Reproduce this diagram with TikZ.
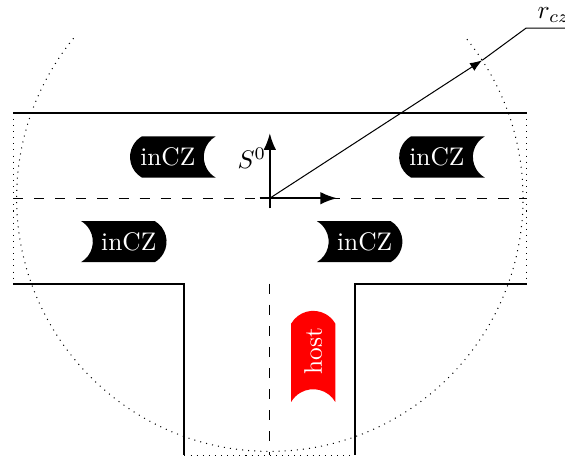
\documentclass[tikz,border=0pt]{standalone}
\usepackage{amsmath}
\usetikzlibrary{arrows.meta,calc,positioning,shapes.misc}

\begin{document}
\begin{tikzpicture}[
  carbox/.style={rounded rectangle, rounded rectangle arc length=120, fill=black, text=white, minimum height=0.57cm, inner xsep=3.3pt},
  hostbox/.style={rounded rectangle, rounded rectangle arc length=120, fill=red, text=white, minimum height=0.61cm, minimum width=1.4cm, inner xsep=2pt, rotate=90, rounded rectangle left arc=concave},
  roadline/.style={thick},
  laneline/.style={dash pattern=on 4pt off 4.3pt},
  zoneline/.style={dotted},
  arrow/.style={-Latex, thick},
  radiusarrow/.style={-Latex}
]
\clip (-3.73,-3.61) rectangle (4.08,2.74);

% road
\draw[roadline] (-3.55,1.18) -- (3.55,1.18);
\draw[roadline] (-3.55,-1.18) -- (-1.18,-1.18) -- (-1.18,-3.55);
\draw[roadline] (3.55,-1.18) -- (1.18,-1.18) -- (1.18,-3.55);
\draw[laneline] (-3.55,0) -- (3.55,0);
\draw[laneline] (0,-1.18) -- (0,-3.55);
\draw[zoneline] (-3.55,1.18) -- (-3.55,-1.18);
\draw[zoneline] (3.55,1.18) -- (3.55,-1.18);
\draw[zoneline] (-1.18,-3.55) -- (1.18,-3.55);

% zone
\coordinate (origin) at (0,0);
\begin{scope}
  \clip (-3.73,-3.61) rectangle (4.08,2.23);
  \draw[zoneline] (origin) circle (3.5);
\end{scope}

% vehicles
\node[carbox, rounded rectangle right arc=concave] (carA) at (-1.41,0.57) {inCZ};
\node[carbox, rounded rectangle right arc=concave] (carB) at (2.31,0.57) {inCZ};
\node[carbox, rounded rectangle left arc=concave] (carC) at (-1.95,-0.6) {inCZ};
\node[carbox, rounded rectangle left arc=concave] (carD) at (1.31,-0.6) {inCZ};
\node[hostbox] (host) at (0.6,-2.11) {host};

% frame
\coordinate (xtail) at (-0.14,0);
\coordinate (ytail) at (0,-0.14);
\coordinate (xtip) at (0.93,0);
\coordinate (ytip) at (0,0.9);
\draw[arrow] (xtail) -- (xtip);
\draw[arrow] (ytail) -- (ytip);
\node (frame) at (-0.25,0.55) {$S^0$};

% radius
\coordinate (rim) at (33:3.5);
\coordinate (knee) at (3.54,2.35);
\draw[radiusarrow] (origin) -- (rim);
\node[above right=1pt and 0.12cm of knee, inner sep=1pt] (rczlabel) {$r_{cz}$};
\draw (rim) -- (knee) -- (knee -| rczlabel.east);
\end{tikzpicture}
\end{document}
